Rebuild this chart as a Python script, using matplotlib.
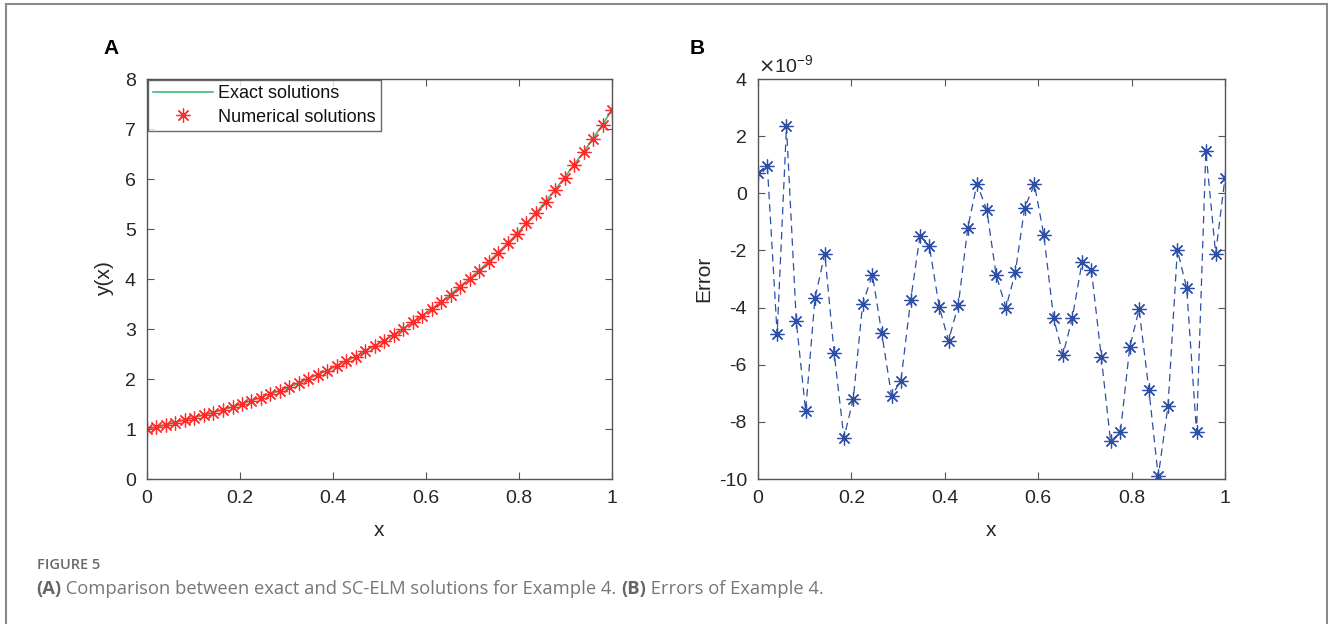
import matplotlib.pyplot as plt
from matplotlib.lines import Line2D

# grid points (50 nodes on [0, 1])
x = [0.000, 0.020, 0.041, 0.061, 0.082, 0.102, 0.122, 0.143, 0.163, 0.184,
     0.204, 0.224, 0.245, 0.265, 0.286, 0.306, 0.327, 0.347, 0.367, 0.388,
     0.408, 0.429, 0.449, 0.469, 0.490, 0.510, 0.531, 0.551, 0.571, 0.592,
     0.612, 0.633, 0.653, 0.673, 0.694, 0.714, 0.735, 0.755, 0.776, 0.796,
     0.816, 0.837, 0.857, 0.878, 0.898, 0.918, 0.939, 0.959, 0.980, 1.000]

y_exact = [1.00, 1.04, 1.09, 1.13, 1.18, 1.23, 1.28, 1.33, 1.39, 1.44,
           1.50, 1.57, 1.63, 1.70, 1.77, 1.84, 1.92, 2.00, 2.09, 2.17,
           2.26, 2.36, 2.45, 2.56, 2.66, 2.77, 2.89, 3.01, 3.14, 3.27,
           3.40, 3.54, 3.69, 3.85, 4.01, 4.17, 4.35, 4.53, 4.72, 4.91,
           5.12, 5.33, 5.55, 5.79, 6.03, 6.28, 6.54, 6.81, 7.09, 7.39]
y_num = y_exact

# errors in units of 1e-9
err = [0.72, 0.96, -4.93, 2.34, -4.48, -7.61, -3.68, -2.11, -5.58, -8.56,
       -7.20, -3.88, -2.85, -4.90, -7.09, -6.56, -3.72, -1.48, -1.86, -3.97,
       -5.16, -3.90, -1.23, 0.34, -0.59, -2.87, -4.00, -2.77, -0.50, 0.31,
       -1.46, -4.37, -5.65, -4.37, -2.40, -2.69, -5.72, -8.68, -8.36, -5.39,
       -4.06, -6.87, -9.91, -7.44, -1.97, -3.33, -8.36, 1.48, -2.11, 0.55]

plt.rcParams['font.family'] = ['Liberation Sans', 'DejaVu Sans']
plt.rcParams['axes.unicode_minus'] = False
axcol = '#262626'
plt.rcParams['axes.edgecolor'] = '#555555'
plt.rcParams['xtick.color'] = '#555555'
plt.rcParams['ytick.color'] = '#555555'
plt.rcParams['xtick.labelcolor'] = axcol
plt.rcParams['ytick.labelcolor'] = axcol

ast = (8, 2, 0)  # MATLAB-like asterisk

fig = plt.figure(figsize=(13.28, 6.24), dpi=100)

# outer frame of the figure panel
fc = '#8a8a8a'
fig.add_artist(Line2D([5.5/1328, 5.5/1328], [0, 1 - 4/624], transform=fig.transFigure, color=fc, lw=1.5))
fig.add_artist(Line2D([5.5/1328, 1326.5/1328], [1 - 4/624, 1 - 4/624], transform=fig.transFigure, color=fc, lw=1.5))
fig.add_artist(Line2D([1326.5/1328, 1326.5/1328], [0, 1 - 4/624], transform=fig.transFigure, color=fc, lw=1.5))

ax1 = fig.add_axes([147/1328, 1 - 479/624, 465/1328, 400/624])
ax2 = fig.add_axes([758/1328, 1 - 479/624, 467/1328, 400/624])

for ax in (ax1, ax2):
    ax.tick_params(direction='in', top=True, right=True, labelsize=14, length=5, width=0.8, pad=8)
    for s in ax.spines.values():
        s.set_linewidth(1.0)
    ax.set_xlim(0, 1)
    ax.set_xticks([0, 0.2, 0.4, 0.6, 0.8, 1])
    ax.set_xticklabels(['0', '0.2', '0.4', '0.6', '0.8', '1'])
    ax.set_xlabel('x', fontsize=15, color=axcol, labelpad=10)

# panel A
ax1.plot(x, y_exact, color='#3dbb7a', lw=1.2, label='Exact solutions')
ax1.plot(x, y_num, ls='none', marker=ast, color='#ff2a2a', ms=10, mew=0.9, label='Numerical solutions')
ax1.set_ylim(0, 8)
ax1.set_yticks(range(0, 9))
ax1.set_ylabel('y(x)', fontsize=15, color=axcol, labelpad=8)
leg = ax1.legend(loc='upper left', fontsize=13, frameon=True, fancybox=False, borderaxespad=0.05,
                 handlelength=3.3, borderpad=0.3, labelspacing=0.35, handletextpad=0.3)
leg.get_frame().set_edgecolor('#444444')
leg.get_frame().set_linewidth(1.0)
for t in leg.get_texts():
    t.set_color('#111111')

# panel B
ax2.plot(x, err, ls=(0, (6, 4)), lw=0.9, marker=ast, color='#2e4fa6', ms=10, mew=0.9)
ax2.set_ylim(-10, 4)
ax2.set_yticks(range(-10, 5, 2))
ax2.set_ylabel('Error', fontsize=15, color=axcol, labelpad=4)
ax2.text(0.0, 1.005, r'$\times$10$^{\mathregular{-9}}$', transform=ax2.transAxes, fontsize=14,
         color=axcol, ha='left', va='bottom')

fig.text(103/1328, 1 - 48/624, 'A', fontsize=15, fontweight='bold', va='center', ha='left')
fig.text(690/1328, 1 - 48/624, 'B', fontsize=15, fontweight='bold', va='center', ha='left')

# caption
fig.text(37/1328, 1 - 565/624, 'FIGURE 5', fontsize=10.5, color='#6a6a6a', family='Open Sans',
         fontweight='semibold', va='center')
parts = [('(A)', 'bold'), (' Comparison between exact and SC-ELM solutions for Example 4. ', 'normal'),
         ('(B)', 'bold'), (' Errors of Example 4.', 'normal')]
fig.canvas.draw()
r = fig.canvas.get_renderer()
xpos = 36
for s, w in parts:
    t = fig.text(xpos/1328, 1 - 589/624, s, fontsize=13.2, color='#666666' if w == 'bold' else '#777777',
                 family='Open Sans', fontweight=w, va='center')
    xpos += t.get_window_extent(r).width

fig.savefig('out.png', dpi=100)
